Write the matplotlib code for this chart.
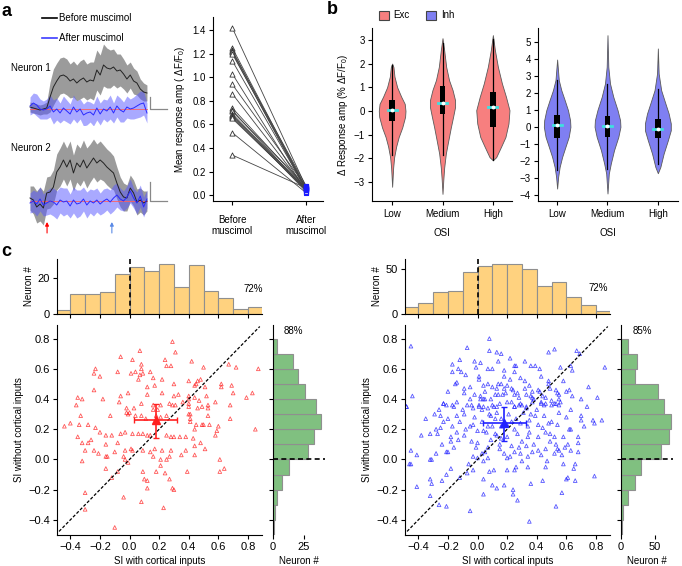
import numpy as np
import matplotlib
matplotlib.use('Agg')
import matplotlib.pyplot as plt
from matplotlib.patches import Rectangle

plt.rcParams['font.family'] = ['Liberation Sans', 'DejaVu Sans']
plt.rcParams['mathtext.fontset'] = 'custom'
plt.rcParams['mathtext.rm'] = 'Liberation Sans'
plt.rcParams['mathtext.it'] = 'Liberation Sans:italic'
plt.rcParams['font.size'] = 7
plt.rcParams['axes.linewidth'] = 0.8
plt.rcParams['xtick.major.size'] = 3
plt.rcParams['ytick.major.size'] = 3
plt.rcParams['xtick.major.width'] = 0.8
plt.rcParams['ytick.major.width'] = 0.8
plt.rcParams['xtick.major.pad'] = 2
plt.rcParams['ytick.major.pad'] = 2

# ---------------- data ----------------
# panel a, traces (dF/F, arbitrary units), 36 frames
n1_before = [0.2, 0.1, 0.0, -0.1, 0.0, 0.1, 1.2, 2.2, 2.8, 3.3, 3.4, 3.2, 2.8, 3.0, 2.6, 2.9, 3.1, 2.7,
             2.9, 2.8, 3.9, 3.4, 4.4, 4.1, 4.0, 4.2, 3.8, 3.9, 3.5, 3.0, 3.4, 2.8, 2.6, 2.0, 1.7, 1.6]
n1_before_err = [0.5, 0.5, 0.5, 0.5, 0.5, 0.6, 1.5, 1.8, 1.8, 1.8, 1.8, 1.8, 1.7, 1.8, 1.8, 1.9, 1.9, 1.8,
                 1.8, 1.9, 2.0, 2.0, 2.1, 2.0, 1.9, 1.8, 1.7, 1.6, 1.5, 1.4, 1.3, 1.3, 1.2, 1.0, 0.9, 0.8]
n1_after = [0.3, 0.6, 0.4, 0.0, -0.1, 0.0, 0.3, -0.3, 0.0, -0.4, 0.1, -0.2, -0.5, 0.2, -0.3, 0.0, -0.6, -0.4,
            -0.3, -0.6, 0.1, -0.5, 0.0, -0.2, 0.2, -0.4, 0.3, -0.1, -0.3, 0.2, 0.0, 0.1, 0.3, 0.5, 0.6, -0.4]
n1_after_err = [0.9, 1.0, 1.1, 1.0, 0.9, 1.0, 1.1, 1.2, 1.1, 1.0, 1.2, 1.1, 1.0, 1.2, 1.1, 1.0, 1.1, 1.2,
                1.0, 1.1, 1.2, 1.1, 1.0, 1.1, 1.2, 1.0, 1.1, 1.2, 1.0, 1.1, 1.0, 1.1, 1.2, 1.3, 1.2, 1.0]
n2_before = [0.3, 0.1, -0.6, -0.3, -0.7, 0.8, 0.9, 1.4, 2.9, 3.4, 4.1, 3.4, 4.1, 2.8, 3.8, 3.4, 4.1, 3.3,
             3.8, 4.3, 3.8, 4.1, 3.8, 3.4, 3.1, 2.8, 1.8, 0.9, 0.4, 0.3, 1.3, 0.8, -0.1, 0.1, -0.2, 0.0]
n2_before_err = [1.2, 1.4, 1.6, 1.7, 1.7, 1.6, 1.6, 1.7, 1.8, 1.9, 1.9, 1.9, 1.9, 1.8, 1.9, 1.9, 2.0, 2.0,
                 1.9, 1.9, 1.9, 1.9, 1.8, 1.8, 1.8, 1.7, 1.6, 1.5, 1.4, 1.3, 1.3, 1.3, 1.3, 1.2, 1.2, 1.0]
n2_after = [-0.2, 0.0, -0.3, 0.2, -0.4, -0.2, 0.0, -0.1, -0.4, 0.1, -0.1, 0.0, -0.5, 0.1, -0.3, -0.2, 0.2, -0.4,
            0.0, -0.2, 0.1, -0.3, 0.0, 0.2, -0.1, 0.3, 0.6, 0.2, 0.0, 0.4, 1.0, 0.3, -0.2, 0.5, -0.6, 0.2]
n2_after_err = [1.0, 1.1, 1.2, 1.2, 1.1, 1.2, 1.3, 1.4, 1.4, 1.3, 1.4, 1.3, 1.2, 1.3, 1.4, 1.3, 1.2, 1.3,
                1.2, 1.3, 1.2, 1.1, 1.2, 1.1, 1.2, 1.3, 1.2, 1.1, 1.0, 1.1, 1.2, 1.0, 1.1, 1.1, 1.0, 0.9]

# panel a, mean response amp
amp_before = [1.42, 1.25, 1.23, 1.22, 1.21, 1.20, 1.14, 1.03, 0.94, 0.86, 0.74, 0.72, 0.71, 0.69,
              0.68, 0.67, 0.66, 0.65, 0.53, 0.34]
amp_after = [0.07, 0.06, 0.05, 0.08, 0.04, 0.06, 0.05, 0.03, 0.07, 0.05, 0.06, 0.04, 0.08, 0.05,
             0.03, 0.06, 0.04, 0.05, 0.02, 0.06]
amp_labels = ['Before\nmuscimol', 'After\nmuscimol']

# panel b, violin profiles (y, half width) and box stats (lo, q1, median, q3, hi)
osi_labels = ['Low', 'Medium', 'High']
exc_low_y = [2.0, 1.85, 1.45, 1.0, 0.6, 0.3, 0.0, -0.25, -0.7, -1.1, -1.5, -1.95, -2.4, -3.2]
exc_low_w = [0.0, 0.026, 0.046, 0.10, 0.18, 0.25, 0.265, 0.257, 0.20, 0.13, 0.08, 0.04, 0.02, 0.0]
exc_med_y = [3.07, 2.57, 1.86, 1.3, 0.88, 0.45, 0.17, -0.25, -0.7, -1.25, -1.8, -2.4, -2.9, -3.5]
exc_med_w = [0.0, 0.033, 0.073, 0.13, 0.20, 0.25, 0.25, 0.21, 0.165, 0.115, 0.066, 0.033, 0.016, 0.0]
exc_high_y = [3.2, 2.57, 1.86, 1.16, 0.6, 0.03, -0.53, -1.1, -1.5, -1.95, -2.08]
exc_high_w = [0.0, 0.04, 0.10, 0.18, 0.26, 0.33, 0.31, 0.25, 0.165, 0.066, 0.0]
inh_low_y = [3.95, 2.74, 2.15, 1.57, 0.98, 0.39, 0.0, -0.59, -1.17, -1.76, -2.35, -2.94, -3.62]
inh_low_w = [0.0, 0.033, 0.083, 0.15, 0.215, 0.257, 0.264, 0.23, 0.165, 0.10, 0.05, 0.02, 0.0]
inh_med_y = [5.38, 3.52, 2.54, 1.76, 0.98, 0.39, 0.0, -0.59, -1.37, -2.15, -2.74, -3.91]
inh_med_w = [0.0, 0.016, 0.05, 0.115, 0.20, 0.25, 0.257, 0.215, 0.13, 0.066, 0.026, 0.0]
inh_high_y = [4.6, 3.13, 2.15, 1.37, 0.78, 0.2, -0.2, -0.78, -1.57, -2.35, -2.72]
inh_high_w = [0.0, 0.016, 0.066, 0.15, 0.215, 0.257, 0.257, 0.20, 0.115, 0.05, 0.0]
exc_box = [(-1.88, -0.44, 0.03, 0.48, 1.93), (-1.88, -0.11, 0.33, 1.06, 2.85), (-2.06, -0.68, 0.18, 0.80, 3.03)]
inh_box = [(-2.54, -0.63, 0.10, 0.68, 2.74), (-2.45, -0.59, 0.05, 0.63, 2.54), (-2.15, -0.68, -0.10, 0.49, 2.25)]

# panel c, histograms
si_edges = [-0.5, -0.4, -0.3, -0.2, -0.1, 0.0, 0.1, 0.2, 0.3, 0.4, 0.5, 0.6, 0.7, 0.8, 0.9]
exc_with_counts = [2, 11, 11, 12, 22, 26, 24, 28, 15, 27, 13, 9, 3, 4]
inh_with_counts = [8, 12, 24, 26, 47, 53, 56, 55, 50, 31, 35, 19, 10, 3]
exc_without_counts = [1, 2, 3, 7, 13, 28, 33, 39, 35, 26, 20, 16, 3]
inh_without_counts = [1, 3, 10, 21, 29, 59, 70, 73, 63, 54, 21, 24, 10]

# panel c, scatter (SI with, SI without)
exc_pts = [
    (0.29, 0.78), (0.31, 0.71), (0.07, 0.72), (-0.06, 0.68), (0.02, 0.66), (-0.23, 0.60), (0.24, 0.66),
    (0.08, 0.63), (0.08, 0.60), (0.25, 0.62), (0.28, 0.62), (0.42, 0.65), (0.50, 0.61), (0.67, 0.63),
    (0.72, 0.61), (0.87, 0.60), (-0.24, 0.57), (-0.20, 0.55), (-0.08, 0.58), (0.01, 0.57), (0.04, 0.58),
    (0.07, 0.56), (0.09, 0.57), (0.14, 0.58), (0.06, 0.53), (0.16, 0.54), (0.22, 0.53), (0.40, 0.52),
    (0.46, 0.52), (0.48, 0.53), (0.45, 0.50), (0.44, 0.49), (0.30, 0.50), (0.12, 0.48), (0.17, 0.49),
    (0.51, 0.48), (0.62, 0.50), (0.62, 0.48), (0.69, 0.49), (-0.24, 0.46), (-0.01, 0.44), (0.12, 0.43),
    (0.22, 0.44), (0.30, 0.42), (0.33, 0.43), (0.40, 0.42), (0.44, 0.41), (0.52, 0.42), (0.70, 0.44),
    (0.79, 0.41), (0.83, 0.44), (-0.35, 0.41), (-0.32, 0.40), (-0.18, 0.40), (-0.06, 0.42), (0.08, 0.37),
    (-0.02, 0.34), (-0.36, 0.36), (-0.07, 0.38), (0.16, 0.36), (0.21, 0.36), (0.27, 0.37), (0.29, 0.36),
    (0.40, 0.40), (0.40, 0.37), (0.47, 0.39), (0.53, 0.36), (0.58, 0.38), (0.68, 0.36), (0.40, 0.35),
    (0.46, 0.34), (0.53, 0.34), (0.03, 0.34), (0.16, 0.33), (0.19, 0.33), (0.31, 0.36), (0.36, 0.38),
    (0.40, 0.30), (0.41, 0.30), (0.49, 0.35), (0.53, 0.29), (-0.33, 0.29), (-0.13, 0.29), (-0.02, 0.31),
    (-0.01, 0.30), (0.00, 0.31), (0.04, 0.29), (0.08, 0.29), (0.11, 0.27), (0.18, 0.29), (0.21, 0.28),
    (0.25, 0.29), (-0.44, 0.22), (-0.40, 0.24), (-0.34, 0.23), (-0.28, 0.23), (-0.23, 0.21), (-0.20, 0.18),
    (-0.16, 0.16), (-0.12, 0.16), (-0.06, 0.17), (-0.03, 0.18), (0.02, 0.17), (0.06, 0.17), (0.09, 0.17),
    (0.12, 0.16), (0.14, 0.16), (0.34, 0.15), (0.38, 0.15), (0.43, 0.14), (0.41, 0.25), (0.41, 0.27),
    (0.45, 0.23), (0.44, 0.20), (0.49, 0.23), (0.50, 0.23), (0.54, 0.23), (0.60, 0.22), (0.58, 0.16),
    (0.59, 0.19), (0.68, 0.27), (0.85, 0.20), (-0.35, 0.15), (-0.32, 0.11), (-0.26, 0.13), (-0.28, 0.11),
    (-0.16, 0.10), (-0.08, 0.11), (-0.03, 0.06), (0.01, 0.07), (0.02, 0.06), (0.09, 0.06), (0.17, 0.07),
    (0.25, 0.16), (0.28, 0.15), (0.30, 0.15), (0.35, 0.03), (0.28, 0.06), (0.22, 0.06), (0.51, 0.07),
    (-0.30, 0.06), (-0.32, -0.01), (-0.24, 0.06), (-0.21, 0.04), (-0.16, 0.02), (-0.15, 0.02), (-0.10, 0.05),
    (-0.04, 0.02), (-0.03, 0.00), (-0.01, -0.02), (0.16, 0.02), (0.21, 0.00), (0.21, -0.04), (0.25, 0.00),
    (0.27, 0.02), (0.38, 0.06), (0.44, 0.03), (0.61, 0.00), (0.64, -0.06), (0.61, -0.08), (0.39, -0.08),
    (0.09, -0.08), (0.18, -0.08), (0.10, -0.13), (0.12, -0.14), (-0.08, -0.08), (-0.16, -0.06),
    (-0.12, -0.12), (0.12, -0.19), (0.24, -0.09), (0.27, -0.13), (0.29, -0.19), (0.30, -0.20),
    (-0.30, -0.22), (-0.04, -0.25), (0.08, -0.28), (-0.30, -0.33), (0.23, -0.32), (-0.10, -0.45),
    (0.44, 0.09), (0.48, 0.11), (0.14, 0.05),
]
inh_pts = [
    (-0.45, 0.75), (-0.44, 0.42), (-0.48, 0.35), (-0.07, 0.74), (0.08, 0.80), (0.08, 0.72), (0.13, 0.71),
    (0.16, 0.70), (0.22, 0.67), (-0.12, 0.66), (-0.17, 0.63), (-0.17, 0.58), (-0.13, 0.60), (-0.11, 0.58),
    (-0.08, 0.56), (-0.02, 0.65), (-0.01, 0.61), (0.02, 0.64), (0.10, 0.60), (0.18, 0.59), (0.25, 0.62),
    (0.26, 0.62), (0.32, 0.65), (0.36, 0.62), (0.39, 0.62), (0.42, 0.60), (0.48, 0.71), (0.52, 0.73),
    (0.67, 0.72), (0.69, 0.70), (0.63, 0.62), (0.64, 0.59), (0.56, 0.61), (0.86, 0.61), (-0.14, 0.51),
    (-0.09, 0.47), (0.01, 0.53), (0.04, 0.49), (0.07, 0.50), (0.14, 0.50), (0.16, 0.50), (0.18, 0.47),
    (0.20, 0.49), (0.22, 0.53), (0.23, 0.47), (0.27, 0.44), (0.29, 0.54), (0.32, 0.52), (0.35, 0.49),
    (0.37, 0.45), (0.41, 0.46), (0.44, 0.42), (0.48, 0.52), (0.49, 0.47), (0.54, 0.44), (0.60, 0.45),
    (0.62, 0.46), (0.75, 0.48), (0.81, 0.41), (-0.09, 0.44), (-0.02, 0.43), (0.02, 0.40), (0.04, 0.40),
    (0.05, 0.40), (0.12, 0.43), (0.14, 0.43), (0.17, 0.43), (0.25, 0.43), (0.36, 0.42), (0.37, 0.41),
    (0.38, 0.40), (0.43, 0.38), (0.46, 0.37), (0.55, 0.40), (0.56, 0.38), (0.52, 0.37), (-0.23, 0.37),
    (-0.21, 0.36), (-0.17, 0.36), (-0.04, 0.36), (0.01, 0.36), (0.04, 0.35), (0.10, 0.36), (0.13, 0.35),
    (0.25, 0.35), (0.30, 0.36), (0.33, 0.35), (-0.48, 0.35), (-0.23, 0.37), (-0.16, 0.35), (-0.29, 0.30),
    (-0.25, 0.29), (-0.20, 0.27), (-0.14, 0.29), (-0.09, 0.30), (-0.07, 0.36), (-0.03, 0.34), (0.01, 0.35),
    (0.03, 0.33), (0.07, 0.34), (0.09, 0.29), (0.11, 0.35), (0.13, 0.31), (0.15, 0.37), (0.16, 0.27),
    (0.23, 0.38), (0.25, 0.35), (0.28, 0.36), (0.29, 0.37), (0.33, 0.34), (0.36, 0.30), (0.39, 0.29),
    (0.43, 0.37), (0.45, 0.36), (0.50, 0.36), (0.53, 0.37), (0.55, 0.36), (0.63, 0.33), (0.70, 0.29),
    (0.78, 0.26), (0.79, 0.24), (0.84, 0.26), (0.70, 0.26), (0.63, 0.20), (0.54, 0.23), (0.48, 0.24),
    (0.41, 0.23), (0.34, 0.22), (0.29, 0.24), (0.23, 0.25), (0.20, 0.23), (0.12, 0.17), (0.13, 0.16),
    (0.07, 0.22), (0.04, 0.19), (0.00, 0.19), (-0.05, 0.22), (-0.12, 0.25), (-0.17, 0.22), (-0.25, 0.21),
    (-0.32, 0.17), (-0.38, 0.16), (-0.41, 0.03), (-0.45, 0.06), (-0.46, -0.03), (-0.45, -0.03),
    (-0.32, 0.00), (-0.31, 0.00), (-0.28, 0.04), (-0.24, 0.10), (-0.21, 0.05), (-0.20, 0.05), (-0.16, 0.08),
    (-0.13, 0.13), (-0.09, 0.16), (-0.04, 0.12), (-0.03, 0.02), (0.00, 0.01), (0.03, 0.04), (0.07, 0.01),
    (0.09, 0.13), (0.15, 0.10), (0.18, 0.04), (0.20, 0.01), (0.23, 0.09), (0.25, 0.05), (0.29, 0.04),
    (0.33, 0.09), (0.37, 0.05), (0.41, 0.15), (0.43, 0.03), (0.46, 0.07), (0.49, 0.12), (0.54, 0.07),
    (0.55, 0.06), (0.57, 0.03), (0.59, 0.08), (0.61, 0.10), (0.68, 0.11), (0.68, 0.05), (0.79, -0.11),
    (0.66, -0.03), (0.65, -0.06), (0.60, -0.13), (0.61, -0.12), (0.57, -0.22), (0.53, -0.31), (0.46, -0.05),
    (0.36, -0.16), (0.34, -0.05), (0.26, -0.05), (0.25, -0.07), (0.20, -0.07), (0.24, -0.20), (0.24, -0.23),
    (0.27, -0.27), (0.18, -0.17), (0.13, -0.19), (0.10, -0.17), (0.11, -0.07), (0.08, -0.08), (0.04, -0.13),
    (-0.03, -0.07), (-0.07, -0.09), (-0.12, -0.12), (-0.18, -0.06), (-0.21, -0.10), (-0.24, -0.14),
    (-0.32, -0.13), (-0.31, -0.16), (-0.32, -0.24), (-0.26, -0.30), (-0.21, -0.31), (-0.41, -0.18),
    (-0.05, -0.34), (0.35, -0.41), (0.04, -0.23), (-0.18, 0.12), (-0.14, 0.18), (-0.27, 0.17), (-0.01, 0.08),
    (0.07, 0.08), (0.16, 0.14), (0.27, 0.17), (0.34, 0.15), (0.46, 0.18), (0.52, 0.15), (-0.06, -0.03),
    (0.04, -0.01), (0.30, -0.01), (0.66, -0.14), (0.44, -0.14), (0.02, 0.42), (0.05, 0.45), (0.09, 0.40),
    (0.13, 0.47), (0.19, 0.44), (0.24, 0.46), (0.28, 0.41), (0.33, 0.43), (0.37, 0.38), (0.42, 0.45),
    (0.46, 0.41), (0.50, 0.39), (0.55, 0.43), (-0.05, 0.40), (-0.10, 0.33), (-0.14, 0.38), (-0.02, 0.28),
    (0.03, 0.25), (0.08, 0.30), (0.12, 0.27), (0.16, 0.22), (0.21, 0.30), (0.26, 0.27), (0.31, 0.31),
    (0.35, 0.26), (0.40, 0.33), (0.45, 0.29), (0.50, 0.25), (0.55, 0.31), (0.60, 0.28), (-0.08, 0.20),
    (-0.03, 0.23), (0.06, 0.18), (0.10, 0.22), (0.20, 0.15), (0.25, 0.20), (0.30, 0.12), (0.35, 0.18),
    (0.38, 0.10), (0.44, 0.21), (0.49, 0.17), (0.53, 0.10), (0.58, 0.15), (0.62, 0.20), (-0.18, 0.15),
    (-0.23, 0.25), (-0.28, 0.20), (-0.35, 0.27), (0.00, 0.11), (0.05, 0.05), (0.15, 0.07), (0.22, 0.02),
    (0.28, 0.08), (0.34, 0.02), (0.41, 0.06), (0.47, -0.01), (0.52, 0.04), (0.58, -0.03), (0.63, 0.06),
    (0.68, 0.15), (0.72, 0.22), (0.10, 0.48), (0.18, 0.55), (0.25, 0.58), (0.32, 0.47), (0.43, 0.55),
    (0.48, 0.50), (0.53, 0.46), (0.58, 0.52), (0.64, 0.42), (0.70, 0.40), (0.74, 0.35), (-0.20, 0.45),
    (-0.26, 0.33), (-0.15, 0.50), (-0.05, 0.48), (0.01, 0.55), (0.07, 0.60), (0.14, 0.65), (0.20, 0.38),
]
# mean and spread (x: lo, mean, hi ; y: lo, mean, hi)
exc_mean = [(0.03, 0.18, 0.32), (0.14, 0.26, 0.37)]
inh_mean = [(0.04, 0.18, 0.33), (0.12, 0.24, 0.35)]
exc_pct = ['72%', '88%']
inh_pct = ['72%', '85%']

# ---------------- colours ----------------
exc_col = '#f77f7f'
inh_col = '#7f7ff2'
hist_top_col = '#ffd27f'
hist_side_col = '#80c080'

W, H = 682, 566
fig = plt.figure(figsize=(W / 100, H / 100), dpi=100)


def px_axes(l, t, r, b):
    return fig.add_axes([l / W, 1 - b / H, (r - l) / W, (b - t) / H])


def clean(ax):
    ax.spines['top'].set_visible(False)
    ax.spines['right'].set_visible(False)


# ---------------- panel a: traces ----------------
frames = np.arange(len(n1_before))
for (t, b, ylim, bef, bef_e, aft, aft_e, bar_h) in [
        (40, 125, (-1.6, 6.9), n1_before, n1_before_err, n1_after, n1_after_err, 1.2),
        (135, 240, (-3.9, 6.6), n2_before, n2_before_err, n2_after, n2_after_err, 1.9)]:
    ax = px_axes(25, t, 172, b)
    bef, bef_e = np.array(bef), np.array(bef_e)
    aft, aft_e = np.array(aft), np.array(aft_e)
    ax.fill_between(frames, bef - bef_e, bef + bef_e, color='#8a8a8a', alpha=0.85, lw=0)
    ax.fill_between(frames, aft - aft_e, aft + aft_e, color='#5555ff', alpha=0.5, lw=0)
    ax.plot([0, frames[-1]], [0, 0], color='#ff6060', lw=0.6, zorder=3)
    ax.plot(frames, bef, color='#222222', lw=0.7, zorder=4)
    ax.plot(frames, aft, color='#2a2aff', lw=0.7, zorder=4)
    ax.plot([35.9, 35.9, 41.0], [bar_h, 0, 0], color='#888888', lw=0.9)
    ax.set_xlim(-1.5, 42.5)
    ax.set_ylim(*ylim)
    ax.axis('off')
    if t == 135:
        for xa, ca in [(5.1, 'red'), (24.5, '#5a8ae6')]:
            ax.annotate('', xy=(xa, -2.1), xytext=(xa, -3.2),
                        arrowprops=dict(arrowstyle='-|>,head_length=0.3,head_width=0.15', color=ca,
                                        lw=0.8, shrinkA=0, shrinkB=0))

# ---------------- panel a: response amp ----------------
ax = px_axes(213, 17, 323, 201)
clean(ax)
for bv, av in zip(amp_before, amp_after):
    ax.plot([0, 1], [bv, av], color='#444444', lw=0.6, zorder=1)
ax.scatter(np.zeros(len(amp_before)), amp_before, marker='^', s=14, facecolors='white',
           edgecolors='#333333', linewidths=0.6, zorder=3)
ax.scatter(np.ones(len(amp_after)), amp_after, marker='s', s=9, facecolors='none',
           edgecolors='#1a1aff', linewidths=0.8, zorder=3)
ax.set_xlim(-0.26, 1.23)
ax.set_ylim(-0.05, 1.51)
ax.set_yticks([0.0, 0.2, 0.4, 0.6, 0.8, 1.0, 1.2, 1.4])
ax.set_xticks([0, 1])
ax.set_xticklabels(amp_labels)
ax.tick_params(axis='x', pad=7)
ax.set_ylabel('Mean response amp ( ΔF/F$_0$)', labelpad=4)


# ---------------- panel b: violins ----------------
def draw_violin(ax, pos, ys, ws, stats, color):
    ys = np.array(ys)
    ws = np.array(ws)
    ax.fill_betweenx(ys, pos - ws, pos + ws, facecolor=color, edgecolor='#5a5a5a', lw=0.6, zorder=1)
    lo, q1, med, q3, hi = stats
    ax.plot([pos, pos], [lo, hi], color='black', lw=0.9, zorder=2)
    ax.add_patch(Rectangle((pos - 0.055, q1), 0.11, q3 - q1, facecolor='black', edgecolor='none', zorder=3))
    ax.plot([pos - 0.09, pos + 0.09], [med, med], color='#3fe0e0', lw=2, zorder=4)
    ax.plot(pos, med, 'o', color='white', ms=2.8, mec='none', zorder=5)


ax_e = px_axes(372, 28, 512, 201)
clean(ax_e)
for i, (ys, ws) in enumerate([(exc_low_y, exc_low_w), (exc_med_y, exc_med_w), (exc_high_y, exc_high_w)]):
    draw_violin(ax_e, i, ys, ws, exc_box[i], exc_col)
ax_e.set_xlim(-0.4, 2.38)
ax_e.set_ylim(-3.8, 3.5)
ax_e.set_yticks([-3, -2, -1, 0, 1, 2, 3])
ax_e.set_xticks([0, 1, 2])
ax_e.set_xticklabels(osi_labels)
ax_e.tick_params(axis='x', pad=3)
ax_e.set_xlabel('OSI', labelpad=6)
ax_e.set_ylabel('Δ Response amp (% ΔF/F$_0$)', labelpad=3)

ax_i = px_axes(538, 28, 678, 201)
clean(ax_i)
for i, (ys, ws) in enumerate([(inh_low_y, inh_low_w), (inh_med_y, inh_med_w), (inh_high_y, inh_high_w)]):
    draw_violin(ax_i, i, ys, ws, inh_box[i], inh_col)
ax_i.set_xlim(-0.38, 2.4)
ax_i.set_ylim(-4.35, 5.8)
ax_i.set_yticks([-4, -3, -2, -1, 0, 1, 2, 3, 4, 5])
ax_i.set_xticks([0, 1, 2])
ax_i.set_xticklabels(osi_labels)
ax_i.tick_params(axis='x', pad=3)
ax_i.set_xlabel('OSI', labelpad=6)

# ---------------- panel c ----------------
si_ticks = [-0.4, -0.2, 0.0, 0.2, 0.4, 0.6, 0.8]
edges = np.array(si_edges)


def panel_c(x0, top_ylim, top_ticks, side_xlim, side_ticks, top_counts, side_counts, pts, mean, col):
    # top histogram
    axt = px_axes(x0, 259, x0 + 205, 314)
    clean(axt)
    axt.bar(edges[:-1], top_counts, width=0.1, align='edge', color=hist_top_col,
            edgecolor='#8f8f8f', lw=0.8)
    axt.axvline(0, color='black', ls='--', lw=1.2, dashes=(3, 2))
    axt.set_xlim(-0.49, 0.895)
    axt.set_ylim(*top_ylim)
    axt.set_xticks(si_ticks)
    axt.set_xticklabels([])
    axt.set_yticks(top_ticks)
    axt.tick_params(labelsize=8)
    axt.set_ylabel('Neuron #', labelpad=3)

    # scatter
    axs = px_axes(x0, 325, x0 + 205, 535)
    clean(axs)
    p = np.array(pts)
    axs.scatter(p[:, 0], p[:, 1], marker='^', s=7, facecolors='none', edgecolors=col,
                linewidths=0.6, alpha=0.75, zorder=2)
    axs.plot([-0.5, 0.88], [-0.5, 0.88], color='black', ls='--', lw=0.9, dashes=(2.5, 1.5), zorder=3)
    (xl, xm, xh), (yl, ym, yh) = mean
    axs.errorbar([xm], [ym], xerr=[[xm - xl], [xh - xm]], yerr=[[ym - yl], [yh - ym]], fmt='^',
                 color=col, ms=6, lw=1.2, capsize=2, capthick=1.0, zorder=4)
    axs.set_xlim(-0.49, 0.895)
    axs.set_ylim(-0.5, 0.89)
    axs.set_xticks(si_ticks)
    axs.set_yticks(si_ticks)
    axs.tick_params(labelsize=8)
    axs.set_xlabel('SI with cortical inputs', labelpad=3)
    axs.set_ylabel('SI without cortical inputs', labelpad=3)

    # side histogram
    sx0 = x0 + 216
    axh = px_axes(sx0, 325, sx0 + 52, 535)
    clean(axh)
    axh.spines['bottom'].set_visible(False)
    axh.barh(edges[:len(side_counts)], side_counts, height=0.1, align='edge', color=hist_side_col,
             edgecolor='#8f8f8f', lw=0.8)
    axh.axhline(0, color='black', ls='--', lw=1.2, dashes=(3, 2))
    axh.set_ylim(-0.5, 0.89)
    axh.set_xlim(*side_xlim)
    axh.set_yticks(si_ticks)
    axh.set_yticklabels([])
    axh.set_xticks(side_ticks)
    axh.tick_params(labelsize=8)
    axh.set_xlabel('Neuron #', labelpad=3)


panel_c(57, (0, 30.5), [0, 20], (0, 42), [0, 25], exc_with_counts, exc_without_counts, exc_pts,
        exc_mean, '#ff2020')
panel_c(405, (0, 61), [0, 50], (0, 76), [0, 50], inh_with_counts, inh_without_counts, inh_pts,
        inh_mean, '#2020ff')

# ---------------- overlay: labels, legends ----------------
cv = fig.add_axes([0, 0, 1, 1])
cv.set_xlim(0, W)
cv.set_ylim(H, 0)
cv.axis('off')
cv.patch.set_visible(False)

cv.text(1, 11, 'a', fontsize=13, fontweight='bold', va='center')
cv.text(327, 9, 'b', fontsize=13, fontweight='bold', va='center')
cv.text(1, 252, 'c', fontsize=13, fontweight='bold', va='center')

cv.plot([42, 57], [18, 18], color='black', lw=1.2)
cv.text(59, 18, 'Before muscimol', va='center')
cv.plot([42, 57], [38, 38], color='#3c3cff', lw=1.2)
cv.text(59, 38, 'After muscimol', va='center')
cv.text(11, 68, 'Neuron 1', va='center')
cv.text(11, 148, 'Neuron 2', va='center')

cv.add_patch(Rectangle((379, 11), 10, 9, facecolor=exc_col, edgecolor='#444444', lw=0.8))
cv.text(393, 15.5, 'Exc', va='center')
cv.add_patch(Rectangle((426, 11), 10, 9, facecolor=inh_col, edgecolor='#444444', lw=0.8))
cv.text(441, 15.5, 'Inh', va='center')

cv.text(253, 289, exc_pct[0], ha='center', va='center')
cv.text(293, 331, exc_pct[1], ha='center', va='center')
cv.text(598, 288, inh_pct[0], ha='center', va='center')
cv.text(642, 331, inh_pct[1], ha='center', va='center')

fig.savefig('out.png', dpi=100)
